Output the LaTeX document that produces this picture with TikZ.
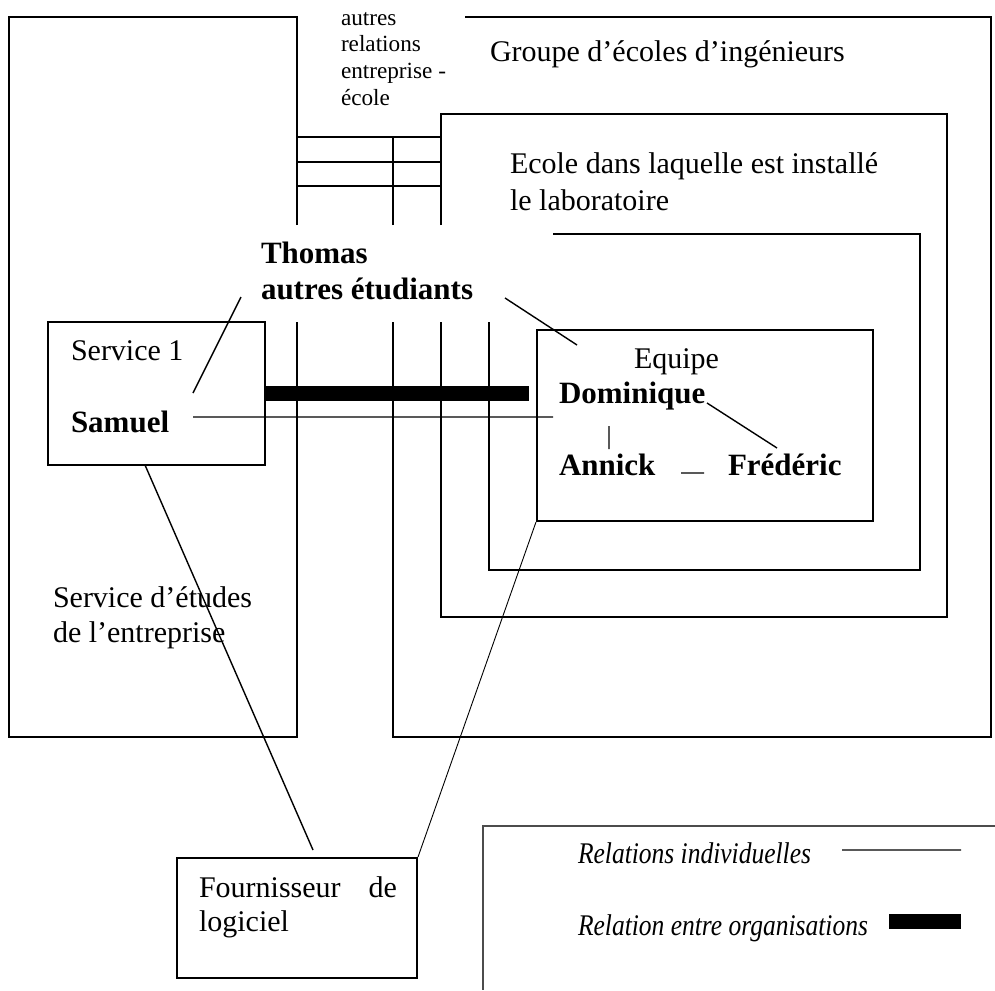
\documentclass[tikz,border=0pt]{standalone}
\usepackage{fontspec}
\usepackage{graphicx}
\setmainfont{Liberation Serif}
\usetikzlibrary{fit}

\newcommand{\txt}{\fontsize{15}{18}\selectfont}
\newcommand{\bld}{\fontsize{15.5}{18}\selectfont\bfseries}

\begin{document}
\begin{tikzpicture}[x=0.5pt,y=-0.5pt,inner sep=0pt,line width=1pt,
  lbl/.style={anchor=base west,align=left},
  rel/.style={line width=0.7pt},
  org/.style={line width=7.5pt}]
\useasboundingbox (0,0) rectangle (995,990);
% cadres
\draw (297,225) -- (297,17) -- (9,17) -- (9,737) -- (297,737) -- (297,322);
\draw (465,17) -- (991,17) -- (991,737) -- (393,737) -- (393,322) (393,225) -- (393,137);
\draw (441,225) -- (441,114) -- (947,114) -- (947,617) -- (441,617) -- (441,322);
\draw (553,234) -- (920,234) -- (920,570) -- (489,570) -- (489,322);
\draw (297,137) -- (441,137) (297,162) -- (441,162) (297,186) -- (441,186);
\node[draw,fit={(48,322) (265,465)}] (service) {};
\node[draw,fit={(537,330) (873,521)}] (equipe) {};
\node[draw,fit={(177,858) (417,978)}] (fourn) {};
\draw[black!70] (995,826) -- (483,826) -- (483,990);
% textes (ancre sur la derniere ligne)
\node[lbl,font=\fontsize{11.6}{13.3}\selectfont] (autres) at (340,105) {autres\\relations\\entreprise -\\école};
\node[lbl] (groupe) at (489,62) {\txt Groupe d’écoles d’ingénieurs};
\node[lbl,font=\fontsize{15}{18.5}\selectfont] (ecole) at (509,210) {Ecole dans laquelle est installé\\le laboratoire};
\node[lbl,font=\bld] (thomas) at (260,299) {Thomas\\autres étudiants};
\node[lbl] (serv1) at (70,360) {\txt Service 1};
\node[lbl] (samuel) at (70,432) {\bld Samuel};
\node[lbl] (eq) at (633,368) {\txt Equipe};
\node[lbl] (dominique) at (558,403) {\bld Dominique};
\node[lbl] (annick) at (558,475) {\bld Annick};
\node[lbl] (frederic) at (727,475) {\bld Frédéric};
\node[lbl,font=\fontsize{15}{17.5}\selectfont] (etudes) at (52,642) {Service d’études\\de l’entreprise};
\node[anchor=north west,text width=99pt,align=justify,font=\fontsize{15}{17}\selectfont]
  (fournt) at (198,876) {Fournisseur de logiciel};
\node[lbl] (leg1) at (577,863) {\scalebox{0.85}[1]{\fontsize{15}{18}\selectfont\itshape Relations individuelles}};
\node[lbl] (leg2) at (577,935) {\scalebox{0.85}[1]{\fontsize{15}{18}\selectfont\itshape Relation entre organisations}};
%
\coordinate (t1) at (241,297); \coordinate (s1) at (193,393);
\coordinate (t2) at (505,298); \coordinate (e1) at (577,345);
\coordinate (s2) at (193,417); \coordinate (d1) at (553,417);
\coordinate (o1) at (529,393.5);
\coordinate (d2) at (707,403); \coordinate (f1) at (777,448);
\coordinate (d3) at (609,426); \coordinate (a1) at (609,449);
\coordinate (a2) at (681,473); \coordinate (f2) at (704,473);
\coordinate (s3) at (145,465); \coordinate (p1) at (313,850);
\coordinate (l1) at (842,850); \coordinate (l2) at (961,850);
\coordinate (l3) at (889,921.5); \coordinate (l4) at (961,921.5);
%%
\draw[org] (service.east) -- (o1) (l3) -- (l4);
\draw[rel] (t1) -- (s1) (t2) -- (e1) (s2) -- (d1) (d2) -- (f1) (d3) -- (a1)
 (a2) -- (f2) (s3) -- (p1) (l1) -- (l2);
\draw[line width=0.45pt] (equipe.south west) -- (fourn.north east);
\end{tikzpicture}
\end{document}
